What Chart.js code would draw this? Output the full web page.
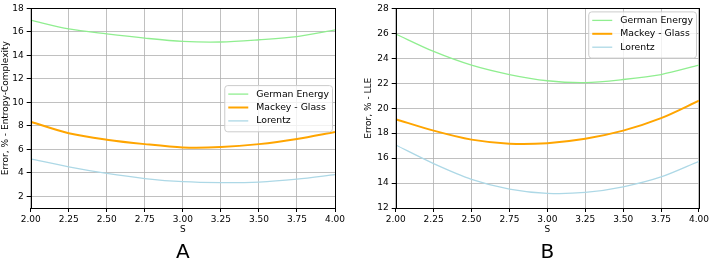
<!DOCTYPE html>
<html>
<head>
<meta charset="utf-8">
<script src="https://cdn.jsdelivr.net/npm/chart.js@4.4.1/dist/chart.umd.min.js"></script>
<style>
  html, body { margin: 0; padding: 0; background: #fff; }
  #wrap { position: relative; width: 711px; height: 260px; }
  .panel { position: absolute; top: 0; height: 260px; }
</style>
</head>
<body>
<div id="wrap">
  <div class="panel" style="left:0;width:355px"><canvas id="chartA"></canvas></div>
  <div class="panel" style="left:355px;width:356px"><canvas id="chartB"></canvas></div>
</div>
<script>
// window size s
const sValues = [2.00, 2.25, 2.50, 2.75, 3.00, 3.25, 3.50, 3.75, 4.00];
const xTicks = [2.00, 2.25, 2.50, 2.75, 3.00, 3.25, 3.50, 3.75, 4.00];

// A: Entropy-Complexity error, %
const germanA  = [17.0, 16.25, 15.83, 15.47, 15.19, 15.14, 15.33, 15.6, 16.17];
const mackeyA  = [8.35, 7.37, 6.82, 6.44, 6.16, 6.19, 6.44, 6.88, 7.48];
const lorentzA = [5.18, 4.5, 3.94, 3.51, 3.24, 3.16, 3.21, 3.46, 3.84];
const yTicksA  = [2, 4, 6, 8, 10, 12, 14, 16, 18];

// B: LLE error, %
const germanB  = [25.95, 24.55, 23.45, 22.7, 22.2, 22.05, 22.3, 22.7, 23.45];
const mackeyB  = [19.12, 18.2, 17.48, 17.16, 17.2, 17.55, 18.2, 19.2, 20.6];
const lorentzB = [17.05, 15.56, 14.3, 13.52, 13.18, 13.25, 13.7, 14.49, 15.74];
const yTicksB  = [12, 14, 16, 18, 20, 22, 24, 26, 28];

const seriesNames = ['German Energy', 'Mackey - Glass', 'Lorentz'];
const seriesColors = ['#90ee90', '#ffa500', '#add8e6'];
const seriesWidths = [1.3, 2, 1.3];

const FONT = 'DejaVu Sans';

const pts = (ys) => sValues.map((x, i) => ({ x: x, y: ys[i] }));

// matplotlib-like frame, legend box inside the axes, panel letter below
const frameAndLegend = {
    id: 'frameAndLegend',
    afterDraw(chart, args, opts) {
        const { ctx, chartArea: a } = chart;
        ctx.save();
        ctx.strokeStyle = '#000';
        ctx.lineWidth = 1;
        ctx.strokeRect(Math.round(a.left) + 0.5, Math.round(a.top) + 0.5,
            Math.round(a.right - a.left), Math.round(a.bottom - a.top));

        // panel letter
        ctx.font = '20px ' + FONT;
        ctx.fillStyle = '#000';
        ctx.textAlign = 'center';
        ctx.textBaseline = 'middle';
        ctx.fillText(opts.letter, (a.left + a.right) / 2, 253);

        ctx.font = '9.3px ' + FONT;
        const ds = chart.data.datasets;
        const textW = Math.max(...ds.map(d => ctx.measureText(d.label).width));
        const w = 32 + textW + 3;
        const rowH = 13.4;
        const h = rowH * ds.length + 6;
        const x = a.right - 3 - w;
        const y = opts.loc === 'upper right' ? a.top + 3 : (a.top + a.bottom) / 2 - h / 2;

        ctx.beginPath();
        ctx.roundRect(x + 0.5, y + 0.5, w, h, 3);
        ctx.fillStyle = 'rgba(255,255,255,0.8)';
        ctx.fill();
        ctx.strokeStyle = '#cccccc';
        ctx.lineWidth = 1;
        ctx.stroke();

        ds.forEach((d, i) => {
            const cy = y + 9 + i * rowH;
            ctx.beginPath();
            ctx.moveTo(x + 4, cy);
            ctx.lineTo(x + 24, cy);
            ctx.strokeStyle = d.borderColor;
            ctx.lineWidth = d.borderWidth;
            ctx.stroke();
            ctx.fillStyle = '#000';
            ctx.textBaseline = 'middle';
            ctx.textAlign = 'left';
            ctx.fillText(d.label, x + 32, cy);
        });
        ctx.restore();
    }
};

function makeChart(id, series, yTicks, yMin, yMax, yTitle, letter, cfg) {
    const el = document.getElementById(id);
    return new Chart(el, {
        type: 'line',
        data: {
            datasets: series.map((ys, i) => ({
                label: seriesNames[i],
                data: pts(ys),
                borderColor: seriesColors[i],
                borderWidth: seriesWidths[i],
                pointRadius: 0,
                tension: 0.3,
                fill: false
            }))
        },
        options: {
            responsive: true,
            maintainAspectRatio: false,
            animation: false,
            events: [],
            layout: { padding: { top: cfg.top, right: cfg.right, bottom: 14, left: 0 } },
            plugins: {
                legend: { display: false },
                tooltip: { enabled: false },
                frameAndLegend: { loc: cfg.legendLoc, letter: letter }
            },
            scales: {
                x: {
                    type: 'linear',
                    min: 2,
                    max: 4,
                    afterBuildTicks: (s) => { s.ticks = xTicks.map(v => ({ value: v })); },
                    afterFit: (s) => { s.height = 38; },
                    ticks: {
                        color: '#000',
                        font: { family: FONT, size: 9 },
                        padding: 2,
                        maxRotation: 0,
                        autoSkip: false,
                        callback: (v) => Number(v).toFixed(2)
                    },
                    grid: { color: '#b0b0b0', lineWidth: 0.8, tickColor: '#000', tickLength: 4, tickWidth: 1 },
                    border: { display: false },
                    title: {
                        display: true,
                        text: 'S',
                        color: '#000',
                        font: { family: FONT, size: 9 },
                        padding: { top: 0, bottom: 10.6 }
                    }
                },
                y: {
                    type: 'linear',
                    min: yMin,
                    max: yMax,
                    afterBuildTicks: (s) => { s.ticks = yTicks.map(v => ({ value: v })); },
                    afterFit: (s) => { s.width = cfg.yWidth; },
                    ticks: {
                        color: '#000',
                        font: { family: FONT, size: 9 },
                        padding: 3
                    },
                    grid: { color: '#b0b0b0', lineWidth: 0.8, tickColor: '#000', tickLength: 4, tickWidth: 1 },
                    border: { display: false },
                    title: {
                        display: true,
                        text: yTitle,
                        color: '#000',
                        font: { family: FONT, size: 9 },
                        padding: { top: cfg.yTitlePad, bottom: 0 }
                    }
                }
            }
        },
        plugins: [frameAndLegend]
    });
}

makeChart('chartA', [germanA, mackeyA, lorentzA], yTicksA, 1, 18,
    'Error, % - Entropy-Complexity', 'A',
    { top: 3, right: 20, yWidth: 30.7, yTitlePad: 0, legendLoc: 'center right' });

makeChart('chartB', [germanB, mackeyB, lorentzB], yTicksB, 12, 28,
    'Error, % - LLE', 'B',
    { top: 4, right: 11, yWidth: 40.7, yTitlePad: 8, legendLoc: 'upper right' });
</script>
</body>
</html>
